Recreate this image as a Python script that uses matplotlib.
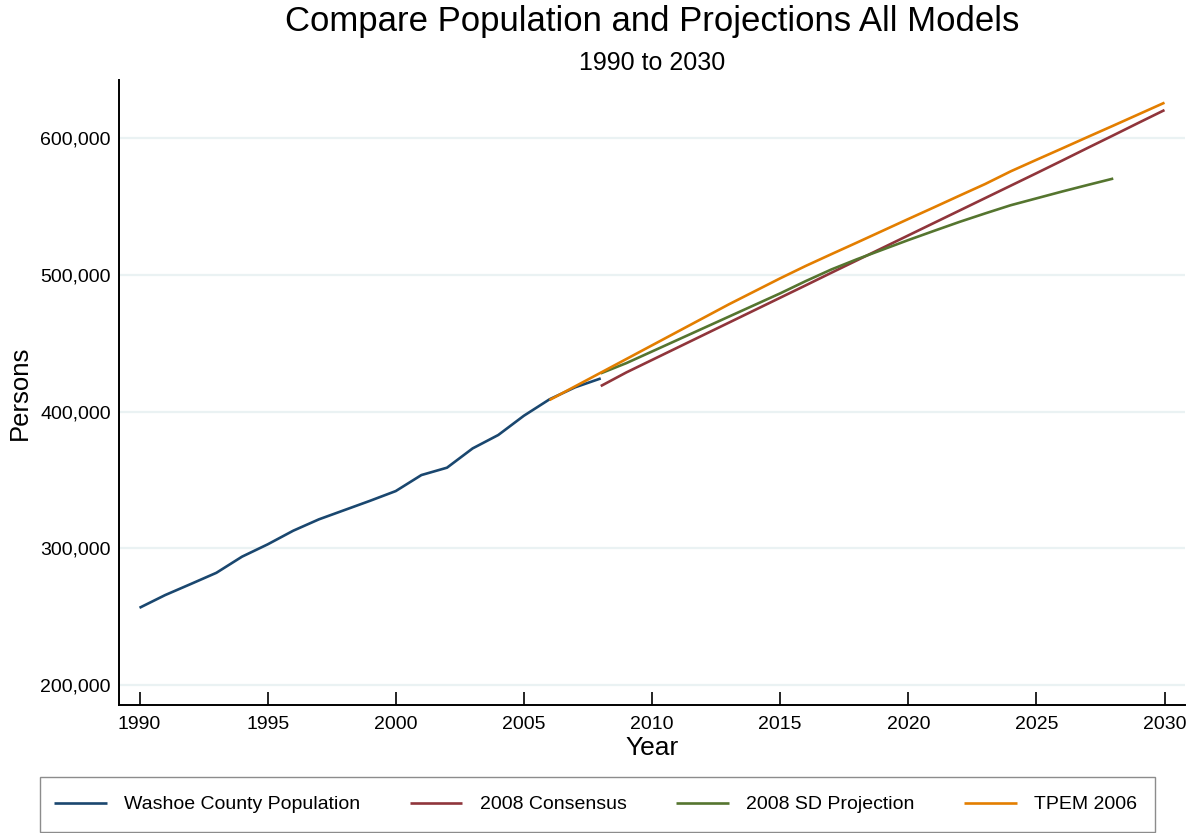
#!/usr/bin/env python3
"""Washoe County population vs. projection models, 1990-2030."""
import matplotlib
matplotlib.use("Agg")
import matplotlib.pyplot as plt
from matplotlib.patches import Rectangle
from matplotlib.ticker import FuncFormatter

plt.rcParams["font.family"] = ["Liberation Sans", "DejaVu Sans"]

# observed population
pop_years = list(range(1990, 2009))
pop_vals = [256500, 265800, 273900, 282100, 293900, 302900, 312900, 321200,
            328000, 334800, 341900, 353600, 359000, 373100, 382900, 397000,
            409000, 417800, 424300]

# 2008 consensus forecast
cons_years = list(range(2008, 2031))
cons_vals = [418700, 428700, 437800, 446900, 456000, 465100, 474200, 483300,
             492400, 501600, 510700, 519800, 528900, 538000, 547100, 556200,
             565300, 574400, 583600, 592900, 602100, 611400, 620600]

# 2008 state demographer projection
sd_years = list(range(2008, 2029))
sd_vals = [428000, 435500, 444000, 452500, 461000, 469500, 478000, 486500,
           495500, 504000, 511500, 518500, 525500, 532200, 538800, 545000,
           551000, 556000, 561000, 565800, 570500]

# TPEM 2006
tpem_years = list(range(2006, 2031))
tpem_vals = [408500, 418500, 428500, 438500, 448500, 458500, 468500, 478500,
             488000, 497500, 506600, 515200, 523700, 532300, 540900, 549400,
             558000, 566500, 575800, 584200, 592500, 600900, 609200, 617600,
             626000]

series = [
    ("Washoe County Population", pop_years, pop_vals, "#1a476f"),
    ("2008 Consensus", cons_years, cons_vals, "#90353b"),
    ("2008 SD Projection", sd_years, sd_vals, "#55752f"),
    ("TPEM 2006", tpem_years, tpem_vals, "#e37e00"),
]

W, H = 1195, 833
fig = plt.figure(figsize=(W / 100, H / 100), dpi=100)
ax = fig.add_axes([119 / W, 128 / H, 1066 / W, 625 / H])

for label, xs, ys, color in series:
    ax.plot(xs, ys, color=color, lw=1.9, label=label, solid_capstyle="butt")

ax.set_xlim(1989.2, 2030.8)
ax.set_ylim(185400, 642600)
ax.set_xticks(range(1990, 2031, 5))
ax.set_yticks(range(200000, 600001, 100000))
ax.yaxis.set_major_formatter(FuncFormatter(lambda v, _: f"{v:,.0f}"))
ax.grid(axis="y", color="#eaf2f3", lw=1.6)
ax.set_axisbelow(True)
for side in ("top", "right"):
    ax.spines[side].set_visible(False)
for side in ("left", "bottom"):
    ax.spines[side].set_linewidth(1.4)
ax.tick_params(axis="x", direction="in", length=9.5, width=1.2, labelsize=14, pad=8)
ax.tick_params(axis="y", length=0, labelsize=14, pad=6)

ax.set_xlabel("Year", fontsize=19)
ax.xaxis.set_label_coords(0.5, -0.049)
ax.set_ylabel("Persons", fontsize=18.5)
ax.yaxis.set_label_coords(-0.082, 0.5)

fig.text(652 / W, 1 - 22 / H, "Compare Population and Projections All Models",
         ha="center", va="center", fontsize=25)
fig.text(652 / W, 1 - 63 / H, "1990 to 2030", ha="center", va="center", fontsize=18)

# legend frame is centred on the figure, entries spread inside it
fig.patches.append(Rectangle((40 / W, 1 / H), 1115 / W, 55 / H, transform=fig.transFigure,
                             fill=False, edgecolor="#8c8c8c", lw=1.0))
fig.legend(loc="center", ncol=4, mode="expand",
           bbox_to_anchor=(54 / W, 1 / H, 1083 / W, 55 / H),
           fontsize=14, handlelength=2.7, handletextpad=0.9, frameon=False,
           borderpad=0, borderaxespad=0)

fig.savefig("out.png", dpi=100)
